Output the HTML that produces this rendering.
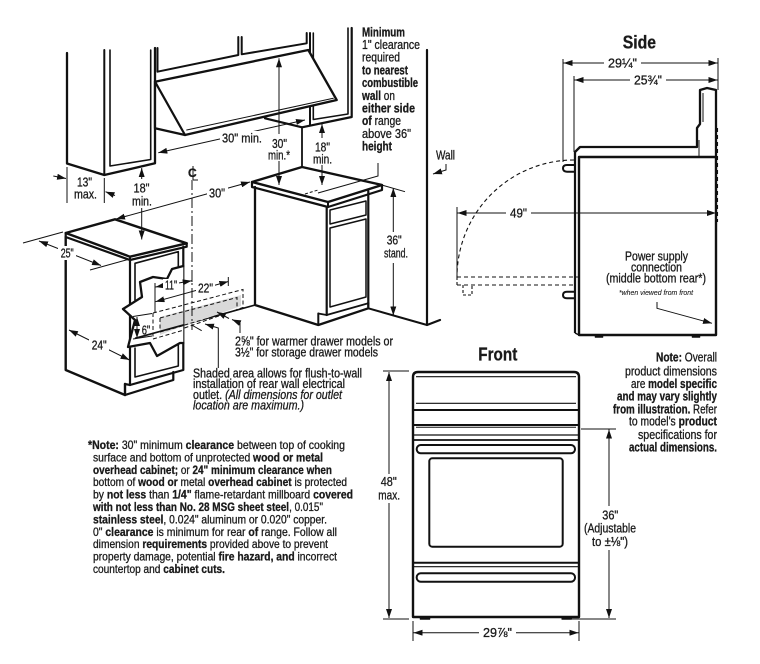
<!DOCTYPE html>
<html><head><meta charset="utf-8">
<style>
html,body{margin:0;padding:0;background:#fff;}
svg{display:block;}
text{font-family:"Liberation Sans",Arial,sans-serif;fill:#1a1a1a;stroke:#1a1a1a;stroke-width:0.3px;}
.b{font-weight:bold;}
</style></head><body>
<svg width="760" height="664" viewBox="0 0 760 664" xmlns="http://www.w3.org/2000/svg">
<defs>
<marker id="a" markerUnits="userSpaceOnUse" markerWidth="9" markerHeight="6" viewBox="0 0 9 6" refX="9" refY="3" orient="auto-start-reverse"><path d="M0,0 L9,3 L0,6 z" fill="#111"/></marker>
</defs>
<rect width="760" height="664" fill="#fff"/>

<!-- ============ LEFT ISOMETRIC SCENE ============ -->
<g stroke="#111" fill="none" stroke-linejoin="round" stroke-linecap="round">
  <polyline points="67,53 67,163.5 104.3,175 155,163.3 155,48" stroke-width="2.3"/>
  <line x1="104.3" y1="50" x2="104.3" y2="175" stroke-width="2"/>
  <polyline points="110,50 110,166 150.7,159.5 150.7,50" stroke-width="1.6"/>
  <polyline points="157.5,48 157.5,71.7 238.3,55 238.3,37" stroke-width="2"/>
  <polyline points="241.7,37 241.7,54.3 306.7,43.3 306.7,33" stroke-width="2"/>
  <line x1="310" y1="33" x2="310" y2="125.5" stroke-width="2"/>
  <polyline points="313.3,33 313.3,119.5 348,114 348,28" stroke-width="1.6"/>
  <polyline points="265,118.3 302,127.3 351.7,117 351.7,28" stroke-width="2.2"/>
  <line x1="302" y1="127.3" x2="302" y2="167" stroke-width="1.8"/>
  <polygon points="155,81.7 308.3,50 336.7,100 185,135 155,128.3" fill="#fff" stroke-width="2.3"/>
  <line x1="155" y1="81.7" x2="185" y2="135" stroke-width="2.2"/>
  <line x1="186.7" y1="130" x2="333.3" y2="98.3" stroke-width="1"/>

  <polyline points="427,50 427,325 440,320" stroke-width="2.2"/>
  <line x1="368.3" y1="308.3" x2="427" y2="325" stroke-width="2"/>

  <polygon points="252,182 302,167 382,185 328,202" fill="#fff" stroke-width="2.4"/>
  <polyline points="252,182 252,187 328,207 382,190 382,185" stroke-width="2.2"/>
  <line x1="328" y1="202" x2="328" y2="207" stroke-width="2"/>
  <polyline points="255,187 255,305 318.3,325 368.3,308.3 368.3,303" stroke-width="2.3"/>
  <line x1="318.3" y1="313.5" x2="318.3" y2="325" stroke-width="2"/>
  <polyline points="318.3,313.5 326.7,315 368.3,303.3" stroke-width="1.8"/>
  <line x1="326.7" y1="207" x2="326.7" y2="315" stroke-width="2.2"/>
  <line x1="368.3" y1="191" x2="368.3" y2="303.3" stroke-width="2.2"/>
  <polygon points="330,210 366,201 366,215 330,224" stroke-width="1.5"/>
  <polygon points="330,228 366,219 366,297 330,307" stroke-width="1.5"/>

  <line x1="135" y1="338.3" x2="255" y2="305" stroke-width="1.6"/>
</g>

<g stroke="#111" fill="none">
  <polygon points="160,317 241,295 241,306 160,335" fill="#d9d9d9" stroke="none"/>
  <polygon points="153,313 243,289.5 243,307.5 153,339" stroke-width="1" stroke-dasharray="4,2.5"/>
  <polygon points="160,318 237,297.5 237,310 160,332" stroke-width="1" stroke-dasharray="4,2.5"/>
</g>

<g stroke="#111" fill="none" stroke-linejoin="round" stroke-linecap="round">
  <polygon points="65.7,237 130,260 130,385 125,387 125,395 65.7,370" fill="#fff" stroke="none"/>
  <polygon points="130,260 183.3,246.7 183.3,370 130,385" fill="#fff" stroke="none"/>
  <polygon points="65.7,233 115,219.3 186.7,243.3 130,256.7" fill="#fff" stroke-width="2.4"/>
  <polyline points="65.7,233 65.7,237 130,260 186.7,246.7 186.7,243.3" stroke-width="2.2"/>
  <line x1="130" y1="256.7" x2="130" y2="260" stroke-width="2"/>
  <polyline points="65.7,237 65.7,370 125,395 125,384" stroke-width="2.4"/>
  <polyline points="125,395 173.3,380 173.3,372" stroke-width="2.2"/>
  <line x1="130" y1="260" x2="130" y2="385" stroke-width="2.2"/>
  <polyline points="125,384 130,385 183.3,370 183.3,246.7" stroke-width="2.2"/>
  <polyline points="135,300 135,263.3 178.3,251.7 178.3,270" stroke-width="1.6"/>
  <polyline points="135,348 135,377 178.3,366 178.3,345" stroke-width="1.6"/>
  <polygon points="183.3,266 172,269 167,279 153,277 140,282 142,297 123,309 135,320 128,347 150,343 157,356 180,343 183.3,343" fill="#fff" stroke="none"/>
  <polyline points="183.3,266 172,269 167,279 153,277 140,282 142,297 123,309 135,320 128,347 150,343 157,356 180,343 183.3,343" stroke-width="2.3"/>
</g>

<g stroke="#111" fill="none">
  <polygon points="160,317 183,310.8 183,326 160,335" fill="#d9d9d9" stroke="none"/>
  <polyline points="153,313 184,305" stroke-width="1" stroke-dasharray="4,2.5"/>
  <polyline points="160,318 184,311.5" stroke-width="1" stroke-dasharray="4,2.5"/>
  <line x1="153" y1="313" x2="153" y2="339" stroke-width="1" stroke-dasharray="4,2.5"/>
  <line x1="160" y1="318" x2="160" y2="332" stroke-width="1" stroke-dasharray="4,2.5"/>
  <polyline points="153,339 184,330" stroke-width="1" stroke-dasharray="4,2.5"/>
  <polyline points="160,332 184,325.5" stroke-width="1" stroke-dasharray="4,2.5"/>
  <line x1="135" y1="338.3" x2="184" y2="324.8" stroke-width="1.6"/>
</g>

<line x1="192" y1="180" x2="192" y2="330" stroke="#111" stroke-width="1" stroke-dasharray="10,3,2,3"/>
<text x="188" y="177" font-size="12" class="b">C</text>
<line x1="193" y1="166" x2="193" y2="180" stroke="#111" stroke-width="1"/>
<line x1="193" y1="180" x2="198" y2="180" stroke="#111" stroke-width="1"/>

<g stroke="#111" fill="none" stroke-width="1">
  <line x1="158.3" y1="152.7" x2="305" y2="120" marker-start="url(#a)" marker-end="url(#a)"/>
  <line x1="279" y1="134" x2="279" y2="58.3" marker-end="url(#a)"/>
  <line x1="279" y1="161" x2="279" y2="185" marker-end="url(#a)"/>
  <line x1="322" y1="138" x2="322" y2="124" marker-end="url(#a)"/>
  <line x1="322" y1="165" x2="322" y2="185" marker-end="url(#a)"/>
  <polyline points="378,163 378,176 318,193"/>
  <line x1="305" y1="194" x2="318" y2="190" stroke-dasharray="3,2"/>
  <line x1="67" y1="167" x2="67" y2="203"/>
  <line x1="104.3" y1="178" x2="104.3" y2="203"/>
  <line x1="53.3" y1="176" x2="66" y2="178.5" marker-end="url(#a)"/>
  <line x1="115" y1="195.5" x2="105.5" y2="191.7" marker-end="url(#a)"/>
  <line x1="141.7" y1="179" x2="141.7" y2="168" marker-end="url(#a)"/>
  <line x1="141.7" y1="208" x2="141.7" y2="239.5" marker-end="url(#a)"/>
  <line x1="116" y1="219" x2="250" y2="182" marker-start="url(#a)" marker-end="url(#a)"/>
  <line x1="381.7" y1="185" x2="405" y2="191.7"/>
  <line x1="393.3" y1="232" x2="393.3" y2="188" marker-end="url(#a)"/>
  <line x1="393.3" y1="263" x2="393.3" y2="315.5" marker-end="url(#a)"/>
  <polyline points="446,164 446,170 433,174" marker-end="url(#a)"/>
  <line x1="23" y1="243" x2="63" y2="232"/>
  <line x1="90" y1="270" x2="128" y2="259.5"/>
  <line x1="39" y1="241" x2="101" y2="265.5" marker-start="url(#a)" marker-end="url(#a)"/>
  <line x1="69" y1="330" x2="129.5" y2="360" marker-start="url(#a)" marker-end="url(#a)"/>
  <line x1="155" y1="283" x2="155" y2="313"/>
  <line x1="228.3" y1="277" x2="228.3" y2="286"/>
  <line x1="192" y1="276" x2="192" y2="282"/>
  <line x1="155.5" y1="287" x2="191.7" y2="280.7" marker-start="url(#a)" marker-end="url(#a)"/>
  <line x1="155.5" y1="301.7" x2="228.3" y2="281.5" marker-start="url(#a)" marker-end="url(#a)"/>
  <line x1="133" y1="316.5" x2="152" y2="313.5"/>
  <line x1="133" y1="339" x2="152" y2="336"/>
  <line x1="137" y1="317" x2="137" y2="338" marker-start="url(#a)" marker-end="url(#a)"/>
  <line x1="229" y1="318.5" x2="217" y2="312" marker-end="url(#a)"/>
  <polyline points="240,333 240,323 232,319.5" marker-end="url(#a)"/>
  <line x1="191.7" y1="325" x2="201.7" y2="330.7"/>
  <polyline points="218.3,368 218.3,328 205,324" marker-end="url(#a)"/>
</g>

<g fill="#fff">
  <rect x="220" y="131" width="45" height="15"/>
  <rect x="207" y="186" width="21" height="14"/>
  <rect x="58" y="246" width="18" height="14"/>
  <rect x="89" y="338" width="20" height="14"/>
  <rect x="163" y="279" width="16" height="13"/>
  <rect x="196" y="282" width="19" height="13"/>
</g>

<g font-size="12.5">
  <text x="222" y="142.5" textLength="40" lengthAdjust="spacingAndGlyphs">30" min.</text>
  <text x="272" y="148" textLength="15" lengthAdjust="spacingAndGlyphs">30"</text>
  <text x="268" y="159.5" textLength="22" lengthAdjust="spacingAndGlyphs">min.*</text>
  <text x="315" y="151.5" textLength="15" lengthAdjust="spacingAndGlyphs">18"</text>
  <text x="313" y="163.5" textLength="19" lengthAdjust="spacingAndGlyphs">min.</text>
  <text x="77" y="186.5" textLength="15" lengthAdjust="spacingAndGlyphs">13"</text>
  <text x="74" y="198.5" textLength="23" lengthAdjust="spacingAndGlyphs">max.</text>
  <text x="133.5" y="192.5" textLength="16" lengthAdjust="spacingAndGlyphs">18"</text>
  <text x="132" y="205.5" textLength="20" lengthAdjust="spacingAndGlyphs">min.</text>
  <text x="209" y="197.5" textLength="16" lengthAdjust="spacingAndGlyphs">30"</text>
  <text x="60.7" y="257.5" textLength="13" lengthAdjust="spacingAndGlyphs">25"</text>
  <text x="91.7" y="349.5" textLength="15" lengthAdjust="spacingAndGlyphs">24"</text>
  <text x="165" y="289.5" textLength="12" lengthAdjust="spacingAndGlyphs">11"</text>
  <text x="198" y="292.5" textLength="15" lengthAdjust="spacingAndGlyphs">22"</text>
  <text x="141.7" y="334.5" textLength="8.5" lengthAdjust="spacingAndGlyphs">6"</text>
  <text x="386.7" y="244.5" textLength="15" lengthAdjust="spacingAndGlyphs">36"</text>
  <text x="384" y="257.5" textLength="24" lengthAdjust="spacingAndGlyphs">stand.</text>
  <text x="436" y="159.5" textLength="19" lengthAdjust="spacingAndGlyphs">Wall</text>
</g>

<g font-size="12.5">
  <text x="362" y="36.3" class="b" textLength="43" lengthAdjust="spacingAndGlyphs">Minimum</text>
  <text x="362" y="49" textLength="58" lengthAdjust="spacingAndGlyphs">1" clearance</text>
  <text x="362" y="61.7" textLength="38" lengthAdjust="spacingAndGlyphs">required</text>
  <text x="362" y="74.4" class="b" textLength="46" lengthAdjust="spacingAndGlyphs">to nearest</text>
  <text x="362" y="87.1" class="b" textLength="56" lengthAdjust="spacingAndGlyphs">combustible</text>
  <text x="362" y="99.8" textLength="33" lengthAdjust="spacingAndGlyphs"><tspan class="b">wall</tspan> on</text>
  <text x="362" y="112.5" class="b" textLength="53" lengthAdjust="spacingAndGlyphs">either side</text>
  <text x="362" y="125.2" textLength="39" lengthAdjust="spacingAndGlyphs"><tspan class="b">of</tspan> range</text>
  <text x="362" y="137.9" textLength="49" lengthAdjust="spacingAndGlyphs">above 36"</text>
  <text x="362" y="150.6" class="b" textLength="30" lengthAdjust="spacingAndGlyphs">height</text>
</g>

<g font-size="12.5">
  <text x="235" y="345.7" textLength="158" lengthAdjust="spacingAndGlyphs">2⅝" for warmer drawer models or</text>
  <text x="235" y="356.3" textLength="143" lengthAdjust="spacingAndGlyphs">3½" for storage drawer models</text>
  <text x="193" y="377.3" textLength="169" lengthAdjust="spacingAndGlyphs">Shaded area allows for flush-to-wall</text>
  <text x="193" y="388" textLength="152" lengthAdjust="spacingAndGlyphs">installation of rear wall electrical</text>
  <text x="193" y="399" textLength="149" lengthAdjust="spacingAndGlyphs">outlet. <tspan font-style="italic">(All dimensions for outlet</tspan></text>
  <text x="193" y="409.5" font-style="italic" textLength="111" lengthAdjust="spacingAndGlyphs">location are maximum.)</text>
</g>

<g font-size="12">
  <text x="88" y="449" textLength="257" lengthAdjust="spacingAndGlyphs"><tspan class="b">*Note:</tspan> 30" minimum <tspan class="b">clearance</tspan> between top of cooking</text>
  <text x="93" y="461.4" textLength="230" lengthAdjust="spacingAndGlyphs">surface and bottom of unprotected <tspan class="b">wood or metal</tspan></text>
  <text x="93" y="473.8" textLength="239" lengthAdjust="spacingAndGlyphs"><tspan class="b">overhead cabinet;</tspan> or <tspan class="b">24" minimum clearance when</tspan></text>
  <text x="93" y="486.2" textLength="254" lengthAdjust="spacingAndGlyphs">bottom of <tspan class="b">wood or</tspan> metal <tspan class="b">overhead cabinet</tspan> is protected</text>
  <text x="93" y="498.6" textLength="260" lengthAdjust="spacingAndGlyphs">by <tspan class="b">not less</tspan> than <tspan class="b">1/4"</tspan> flame-retardant millboard <tspan class="b">covered</tspan></text>
  <text x="93" y="511" textLength="230" lengthAdjust="spacingAndGlyphs"><tspan class="b">with not less than No. 28 MSG sheet steel</tspan>, 0.015"</text>
  <text x="93" y="523.4" textLength="234" lengthAdjust="spacingAndGlyphs"><tspan class="b">stainless steel</tspan>, 0.024" aluminum or 0.020" copper.</text>
  <text x="93" y="535.8" textLength="244" lengthAdjust="spacingAndGlyphs">0" <tspan class="b">clearance</tspan> is minimum for rear <tspan class="b">of</tspan> range. Follow all</text>
  <text x="93" y="548.2" textLength="235" lengthAdjust="spacingAndGlyphs">dimension <tspan class="b">requirements</tspan> provided above to prevent</text>
  <text x="93" y="560.6" textLength="244" lengthAdjust="spacingAndGlyphs">property damage, potential <tspan class="b">fire hazard, and</tspan> incorrect</text>
  <text x="93" y="573" textLength="132" lengthAdjust="spacingAndGlyphs">countertop and <tspan class="b">cabinet cuts.</tspan></text>
</g>

<!-- ============ SIDE VIEW ============ -->
<text x="622.7" y="48.3" font-size="18" class="b" textLength="33.3" lengthAdjust="spacingAndGlyphs">Side</text>
<g stroke="#111" fill="none" stroke-linejoin="round">
  <rect x="579" y="157" width="137" height="178" fill="#fff" stroke-width="2.4"/>
  <line x1="575" y1="160" x2="575" y2="333" stroke-width="2.2"/>
  <polyline points="575,333 579,335" stroke-width="1.5"/>
  <polyline points="575,160 575,152 580,147 697,147 697,128 700,124 700,90 707,88 716,90 716,157" stroke-width="2.3"/>
  <line x1="703" y1="93" x2="703" y2="122" stroke-width="1"/>
  <line x1="699" y1="140" x2="699" y2="156" stroke-width="1"/>
  <path d="M575,165 H567 Q563,165 563,168.3 Q563,171.7 567,171.7 H575" stroke-width="2"/>
  <path d="M575,291.7 H567 Q563,291.7 563,295 Q563,298.3 567,298.3 H575" stroke-width="2"/>
  <rect x="595" y="335" width="8" height="2.5" fill="#111" stroke-width="0.5"/>
  <rect x="692" y="335" width="8" height="2.5" fill="#111" stroke-width="0.5"/>
  <path d="M574,160 A117 117 0 0 0 457,277" stroke-width="1.1" stroke-dasharray="4,3"/>
  <line x1="457" y1="277" x2="578" y2="277" stroke-width="1.1" stroke-dasharray="4,3"/>
  <line x1="457" y1="285" x2="575" y2="285" stroke-width="1.1" stroke-dasharray="4,3"/>
  <line x1="457" y1="277" x2="457" y2="285" stroke-width="1.1" stroke-dasharray="3,2"/>
  <polyline points="463,285 463,295 472,295 472,285" stroke-width="1.1" stroke-dasharray="3,2"/>
  <line x1="717.5" y1="128" x2="717.5" y2="222" stroke-width="1.1" stroke-dasharray="4,3"/>
</g>
<g stroke="#111" fill="none" stroke-width="1">
  <line x1="563" y1="59" x2="563" y2="162"/>
  <line x1="574" y1="76" x2="574" y2="152"/>
  <line x1="718" y1="58" x2="718" y2="90"/>
  <line x1="457" y1="207" x2="457" y2="277"/>
  <line x1="563.5" y1="63" x2="717.5" y2="63" marker-start="url(#a)" marker-end="url(#a)"/>
  <line x1="574.5" y1="80" x2="717.5" y2="80" marker-start="url(#a)" marker-end="url(#a)"/>
  <line x1="457.5" y1="213" x2="716" y2="213" marker-start="url(#a)" marker-end="url(#a)"/>
  <polyline points="657,302 657,308.3 712,323.3" marker-end="url(#a)"/>
</g>
<g fill="#fff">
  <rect x="604" y="57" width="37" height="13"/>
  <rect x="630" y="74" width="36" height="13"/>
  <rect x="506" y="207" width="25" height="13"/>
</g>
<g font-size="12.5">
  <text x="608" y="67.5" textLength="29" lengthAdjust="spacingAndGlyphs">29¼"</text>
  <text x="634" y="84.5" textLength="28" lengthAdjust="spacingAndGlyphs">25¾"</text>
  <text x="510" y="217.5" textLength="17" lengthAdjust="spacingAndGlyphs">49"</text>
  <text x="625" y="260.7" textLength="63" lengthAdjust="spacingAndGlyphs">Power supply</text>
  <text x="631" y="271.7" textLength="51" lengthAdjust="spacingAndGlyphs">connection</text>
  <text x="606" y="282.3" textLength="100" lengthAdjust="spacingAndGlyphs">(middle bottom rear*)</text>
</g>
<text x="619" y="294.8" font-size="7" font-style="italic" style="stroke-width:0.1px" textLength="74" lengthAdjust="spacingAndGlyphs">*when viewed from front</text>

<!-- ============ FRONT VIEW ============ -->
<text x="478.3" y="360.3" font-size="18.5" class="b" textLength="39" lengthAdjust="spacingAndGlyphs">Front</text>
<g stroke="#111" fill="none" stroke-linejoin="round">
  <path d="M413,617 V377 Q413,372 418,372 H574 Q579,372 579,377 V617 Z" fill="#fff" stroke-width="2.4"/>
  <line x1="416" y1="376.7" x2="576" y2="376.7" stroke-width="1.2"/>
  <line x1="416" y1="403.3" x2="576" y2="403.3" stroke-width="1.2"/>
  <line x1="413" y1="410" x2="579" y2="410" stroke-width="2"/>
  <line x1="413" y1="425" x2="579" y2="425" stroke-width="2"/>
  <line x1="416" y1="427.3" x2="576" y2="427.3" stroke-width="1"/>
  <line x1="413" y1="435" x2="579" y2="435" stroke-width="1.2"/>
  <line x1="413" y1="440" x2="579" y2="440" stroke-width="1.8"/>
  <rect x="416.7" y="445" width="158.3" height="8.3" rx="4" stroke-width="2"/>
  <rect x="429.3" y="458.3" width="133.4" height="88.4" rx="3" stroke-width="2"/>
  <line x1="413" y1="562.7" x2="579" y2="562.7" stroke-width="2"/>
  <line x1="413" y1="566.7" x2="579" y2="566.7" stroke-width="1.2"/>
  <rect x="416.7" y="573.3" width="158.3" height="8.4" rx="4" stroke-width="2"/>
  <rect x="420" y="617" width="10" height="2.5" fill="#111" stroke-width="0.5"/>
  <rect x="561.7" y="617" width="10" height="2.5" fill="#111" stroke-width="0.5"/>
</g>
<g stroke="#111" fill="none" stroke-width="1">
  <line x1="383" y1="371" x2="409" y2="371"/>
  <line x1="383" y1="619" x2="409" y2="619"/>
  <line x1="389" y1="474" x2="389" y2="372" marker-end="url(#a)"/>
  <line x1="389" y1="503" x2="389" y2="618" marker-end="url(#a)"/>
  <line x1="581" y1="429" x2="616" y2="429"/>
  <line x1="570" y1="619" x2="616" y2="619"/>
  <line x1="609" y1="506" x2="609" y2="429.5" marker-end="url(#a)"/>
  <line x1="609" y1="550" x2="609" y2="618" marker-end="url(#a)"/>
  <line x1="413" y1="621" x2="413" y2="641"/>
  <line x1="579" y1="621" x2="579" y2="641"/>
  <line x1="413.5" y1="632.7" x2="578.5" y2="632.7" marker-start="url(#a)" marker-end="url(#a)"/>
</g>
<rect x="479" y="626" width="37" height="14" fill="#fff"/>
<g font-size="12.5">
  <text x="380.7" y="486" textLength="16" lengthAdjust="spacingAndGlyphs">48"</text>
  <text x="378.3" y="499.5" textLength="21.7" lengthAdjust="spacingAndGlyphs">max.</text>
  <text x="602.3" y="519.3" textLength="16" lengthAdjust="spacingAndGlyphs">36"</text>
  <text x="584" y="532.5" textLength="52" lengthAdjust="spacingAndGlyphs">(Adjustable</text>
  <text x="592" y="545.8" textLength="36" lengthAdjust="spacingAndGlyphs">to ±⅛")</text>
  <text x="483" y="637" textLength="29" lengthAdjust="spacingAndGlyphs">29⅞"</text>
</g>

<g font-size="12.5">
  <text x="656" y="361.3" textLength="61" lengthAdjust="spacingAndGlyphs"><tspan class="b">Note:</tspan> Overall</text>
  <text x="625" y="375.7" textLength="92" lengthAdjust="spacingAndGlyphs">product dimensions</text>
  <text x="631" y="388" textLength="86" lengthAdjust="spacingAndGlyphs">are <tspan class="b">model specific</tspan></text>
  <text x="617" y="400.7" textLength="100" lengthAdjust="spacingAndGlyphs"><tspan class="b">and may vary slightly</tspan></text>
  <text x="613" y="413.3" textLength="104" lengthAdjust="spacingAndGlyphs"><tspan class="b">from illustration.</tspan> Refer</text>
  <text x="629" y="425.7" textLength="88" lengthAdjust="spacingAndGlyphs">to model's <tspan class="b">product</tspan></text>
  <text x="638" y="439" textLength="79" lengthAdjust="spacingAndGlyphs">specifications for</text>
  <text x="629" y="451.3" textLength="88" lengthAdjust="spacingAndGlyphs"><tspan class="b">actual dimensions.</tspan></text>
</g>
</svg>
</body></html>
